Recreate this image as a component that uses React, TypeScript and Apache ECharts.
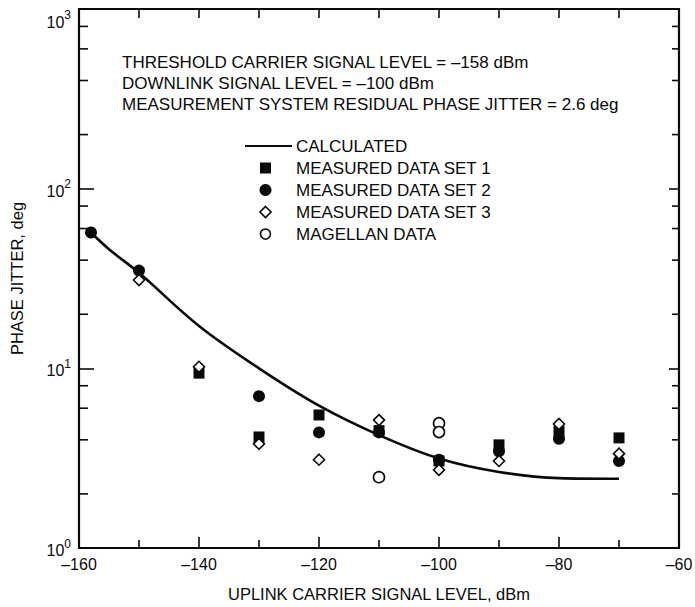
import React, { useEffect, useRef } from "react";
import * as echarts from "echarts";

const xTickLabels = [-160, -140, -120, -100, -80, -60];
const yMinorTicks = [2, 4, 6, 8, 20, 40, 60, 80, 200, 400, 600, 800];

const calculated: [number, number][] = [
  [-158, 57], [-155, 46], [-150, 34], [-140, 17.2], [-130, 10.0], [-120, 6.2],
  [-110, 4.25], [-100, 3.15], [-90, 2.65], [-80, 2.45], [-70, 2.43],
];
const set1: [number, number][] = [
  [-140, 9.4], [-130, 4.15], [-120, 5.5], [-110, 4.5], [-100, 3.05], [-90, 3.75], [-80, 4.45], [-70, 4.1],
];
const set2: [number, number][] = [
  [-158, 57], [-150, 35], [-130, 7.0], [-120, 4.4], [-110, 4.4], [-100, 3.1], [-90, 3.45], [-80, 4.05], [-70, 3.05],
];
const set3: [number, number][] = [
  [-150, 31], [-140, 10.2], [-130, 3.8], [-120, 3.1], [-110, 5.15], [-100, 2.72], [-90, 3.05], [-80, 4.9], [-70, 3.35],
];
const magellan: [number, number][] = [
  [-110, 2.48], [-100, 4.95], [-100, 4.42],
];

const notes = [
  "THRESHOLD CARRIER SIGNAL LEVEL = –158 dBm",
  "DOWNLINK SIGNAL LEVEL = –100 dBm",
  "MEASUREMENT SYSTEM RESIDUAL PHASE JITTER = 2.6 deg",
];
const legendNames = [
  "CALCULATED",
  "MEASURED DATA SET 1",
  "MEASURED DATA SET 2",
  "MEASURED DATA SET 3",
  "MAGELLAN DATA",
];

const FONT = "'Liberation Sans', Arial, Helvetica, sans-serif";
const INK = "#0a0a0a";

export default function App() {
  const ref = useRef<HTMLDivElement>(null);
  useEffect(() => {
    if (!ref.current) return;
    const chart = echarts.init(ref.current, null, { renderer: "svg" });
    const textStyle = { fill: INK, font: `17px ${FONT}` };
    const noteY = [62, 83, 104];
    const legY = [146, 168, 190, 212, 234];
    const graphics: any[] = [];
    notes.forEach((t, i) =>
      graphics.push({
        type: "text",
        x: 122,
        y: noteY[i],
        style: { text: t, ...textStyle, verticalAlign: "middle" },
      })
    );
    legendNames.forEach((t, i) =>
      graphics.push({
        type: "text",
        x: 296,
        y: legY[i],
        style: { text: t, ...textStyle, verticalAlign: "middle" },
      })
    );
    graphics.push({
      type: "line",
      shape: { x1: 245, y1: legY[0], x2: 292, y2: legY[0] },
      style: { stroke: INK, lineWidth: 2.2 },
    });
    graphics.push({
      type: "rect",
      shape: { x: 260, y: legY[1] - 5.5, width: 11, height: 11 },
      style: { fill: INK },
    });
    graphics.push({
      type: "circle",
      shape: { cx: 265.5, cy: legY[2], r: 6 },
      style: { fill: INK },
    });
    graphics.push({
      type: "polygon",
      shape: {
        points: [
          [265.5, legY[3] - 5.5],
          [271, legY[3]],
          [265.5, legY[3] + 5.5],
          [260, legY[3]],
        ],
      },
      style: { fill: "#fff", stroke: INK, lineWidth: 1.6 },
    });
    graphics.push({
      type: "circle",
      shape: { cx: 265.5, cy: legY[4], r: 5 },
      style: { fill: "#fff", stroke: INK, lineWidth: 1.6 },
    });

    const axisLine = { show: true, onZero: false, lineStyle: { color: INK, width: 2.2 } };

    chart.setOption({
      animation: false,
      backgroundColor: "#fff",
      grid: { left: 79, right: 16, top: 9, bottom: 59, containLabel: false, outerBoundsMode: "none" },
      xAxis: [
        {
          type: "value",
          min: -160,
          max: -60,
          interval: 20,
          position: "bottom",
          axisLine,
          axisTick: { show: true, inside: true, length: 11, lineStyle: { color: INK, width: 1.6 } },
          minorTick: { show: true, splitNumber: 2, length: 8, lineStyle: { color: INK, width: 1.6 } },
          splitLine: { show: false },
          minorSplitLine: { show: false },
          axisLabel: {
            show: true,
            margin: 8,
            color: INK,
            fontSize: 16,
            fontFamily: FONT,
            formatter: (v: number) => (xTickLabels.includes(v) ? String(v).replace("-", "–") : ""),
          },
          name: "UPLINK CARRIER SIGNAL LEVEL, dBm",
          nameLocation: "middle",
          nameGap: 37,
          nameTextStyle: { color: INK, fontSize: 16.5, fontFamily: FONT },
        },
        {
          type: "value",
          min: -160,
          max: -60,
          interval: 10,
          position: "top",
          axisLine,
          axisTick: { show: true, inside: true, length: 9, lineStyle: { color: INK, width: 1.6 } },
          splitLine: { show: false },
          axisLabel: { show: false },
        },
      ],
      yAxis: [
        {
          type: "log",
          logBase: 10,
          min: 1,
          max: 1000,
          position: "left",
          axisLine,
          axisTick: { show: true, inside: true, length: 15, lineStyle: { color: INK, width: 1.6 } },
          splitLine: { show: false },
          minorTick: { show: false },
          axisLabel: {
            show: true,
            margin: 8,
            color: INK,
            fontFamily: FONT,
            verticalAlignMaxLabel: "top",
            formatter: (v: number) => `{b|10}{s|${Math.round(Math.log10(v))}}`,
            rich: {
              b: { fontSize: 16, fontFamily: FONT, color: INK, lineHeight: 21, verticalAlign: "bottom" },
              s: { fontSize: 12, fontFamily: FONT, color: INK, lineHeight: 13, verticalAlign: "top" },
            },
          },
          name: "PHASE JITTER, deg",
          nameLocation: "middle",
          nameGap: 54,
          nameTextStyle: { color: INK, fontSize: 16.5, fontFamily: FONT },
        },
        {
          type: "log",
          logBase: 10,
          min: 1,
          max: 1000,
          position: "right",
          axisLine,
          axisTick: { show: true, inside: true, length: 10, lineStyle: { color: INK, width: 1.6 } },
          splitLine: { show: false },
          axisLabel: { show: false },
        },
      ],
      graphic: graphics,
      series: [
        {
          type: "custom",
          name: "minorTicks",
          silent: true,
          clip: false,
          data: yMinorTicks.map((v) => [-160, v]),
          renderItem: (_params: any, api: any) => {
            const v = api.value(1);
            const l = api.coord([-160, v]);
            const r = api.coord([-60, v]);
            const st = { stroke: INK, lineWidth: 1.6 };
            return {
              type: "group",
              children: [
                { type: "line", shape: { x1: l[0], y1: l[1], x2: l[0] + 9, y2: l[1] }, style: st },
                { type: "line", shape: { x1: r[0] - 7, y1: r[1], x2: r[0], y2: r[1] }, style: st },
              ],
            };
          },
        },
        {
          type: "line",
          name: "CALCULATED",
          data: calculated,
          smooth: 0.35,
          showSymbol: false,
          lineStyle: { color: INK, width: 2.6 },
          z: 2,
        },
        {
          type: "scatter",
          name: "MEASURED DATA SET 1",
          data: set1,
          symbol: "rect",
          symbolSize: 11,
          itemStyle: { color: INK, opacity: 1 },
          z: 3,
        },
        {
          type: "scatter",
          name: "MEASURED DATA SET 2",
          data: set2,
          symbol: "circle",
          symbolSize: 12,
          itemStyle: { color: INK, opacity: 1 },
          z: 3,
        },
        {
          type: "scatter",
          name: "MEASURED DATA SET 3",
          data: set3,
          symbol: "diamond",
          symbolSize: 11,
          itemStyle: { color: "#fff", borderColor: INK, borderWidth: 1.6, opacity: 1 },
          z: 4,
        },
        {
          type: "scatter",
          name: "MAGELLAN DATA",
          data: magellan,
          symbol: "circle",
          symbolSize: 11,
          itemStyle: { color: "#fff", borderColor: INK, borderWidth: 1.6, opacity: 1 },
          z: 4,
        },
      ],
    });
    return () => chart.dispose();
  }, []);
  return <div ref={ref} style={{ width: 695, height: 607, position: "absolute", left: 0, top: 0 }} />;
}
